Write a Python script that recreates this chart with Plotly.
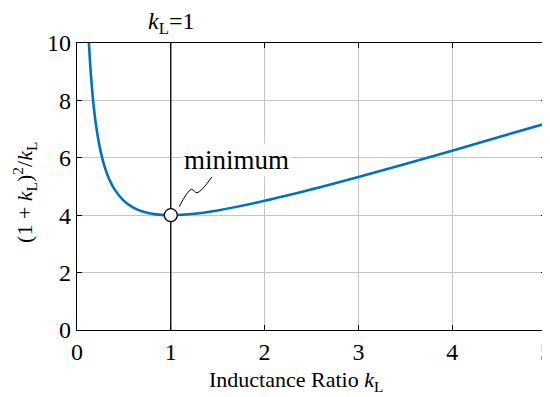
import plotly.graph_objects as go

# curve samples: inductance ratio k_L and (1+k_L)^2/k_L
k_vals = [0.127, 0.14, 0.15, 0.17, 0.2, 0.25, 0.3, 0.35, 0.4, 0.5, 0.6, 0.7, 0.8, 0.9,
          1.0, 1.25, 1.5, 2.0, 2.5, 3.0, 3.5, 4.0, 4.5, 5.0]
y_vals = [10.0, 9.283, 8.817, 8.052, 7.2, 6.25, 5.633, 5.207, 4.9, 4.5, 4.267, 4.129, 4.05, 4.011,
          4.0, 4.05, 4.167, 4.5, 4.9, 5.333, 5.786, 6.25, 6.722, 7.2]
min_k = [1.0]
min_y = [4.0]
x_ticks = [0, 1, 2, 3, 4, 5]
y_ticks = [0, 2, 4, 6, 8, 10]
squiggle_x = [1.09, 1.22, 1.28, 1.44]
squiggle_y = [4.30, 4.90, 4.78, 5.34]

FONT = "Liberation Serif, serif"

fig = go.Figure()
fig.add_trace(go.Scatter(x=[1, 1], y=[0, 10], mode="lines",
                         line=dict(color="black", width=1.3), hoverinfo="skip"))
fig.add_trace(go.Scatter(x=k_vals, y=y_vals, mode="lines",
                         line=dict(color="#0072BD", width=2.6, shape="spline", smoothing=1.0)))
fig.add_trace(go.Scatter(x=squiggle_x, y=squiggle_y, mode="lines",
                         line=dict(color="black", width=1, shape="spline"), hoverinfo="skip"))
fig.add_trace(go.Scatter(x=min_k, y=min_y, mode="markers",
                         marker=dict(size=13, color="white", line=dict(color="black", width=1.3))))

fig.add_annotation(x=1, y=1.0, xref="x", yref="paper", yanchor="bottom", yshift=3,
                   text="<i>k</i><sub>L</sub>=1", showarrow=False,
                   font=dict(family=FONT, size=24, color="black"))
fig.add_annotation(x=1.12, y=5.92, xref="x", yref="y", xanchor="left",
                   text="minimum", showarrow=False, bgcolor="white",
                   font=dict(family=FONT, size=27, color="black"))
# axis titles
fig.add_annotation(x=0.467, y=-0.178, xref="paper", yref="paper",
                   xanchor="center", yanchor="middle", showarrow=False,
                   text="Inductance Ratio <i>k</i><sub>L</sub>",
                   font=dict(family=FONT, size=22, color="black"))
fig.add_annotation(x=-0.111, y=0.481, xref="paper", yref="paper",
                   xanchor="center", yanchor="middle", showarrow=False, textangle=-90,
                   text="(1 + <i>k</i><sub>L</sub>)<sup>2</sup>/<i>k</i><sub>L</sub>",
                   font=dict(family=FONT, size=22, color="black"))

axis_common = dict(showline=True, linecolor="black", linewidth=1.2, mirror="ticks",
                   ticks="inside", ticklen=5, tickcolor="black",
                   showgrid=True, gridcolor="#c4c4c4", gridwidth=1, zeroline=False,
                   tickfont=dict(family=FONT, size=24, color="black"))

fig.update_layout(
    width=550, height=389,
    margin=dict(l=69, r=12, t=35, b=67),
    paper_bgcolor="white", plot_bgcolor="white",
    showlegend=False,
    xaxis=dict(range=[0, 5], tickvals=x_ticks, automargin=False, **axis_common),
    yaxis=dict(range=[0, 10], tickvals=y_ticks, automargin=False, **axis_common),
)

fig.write_html("out.html")
